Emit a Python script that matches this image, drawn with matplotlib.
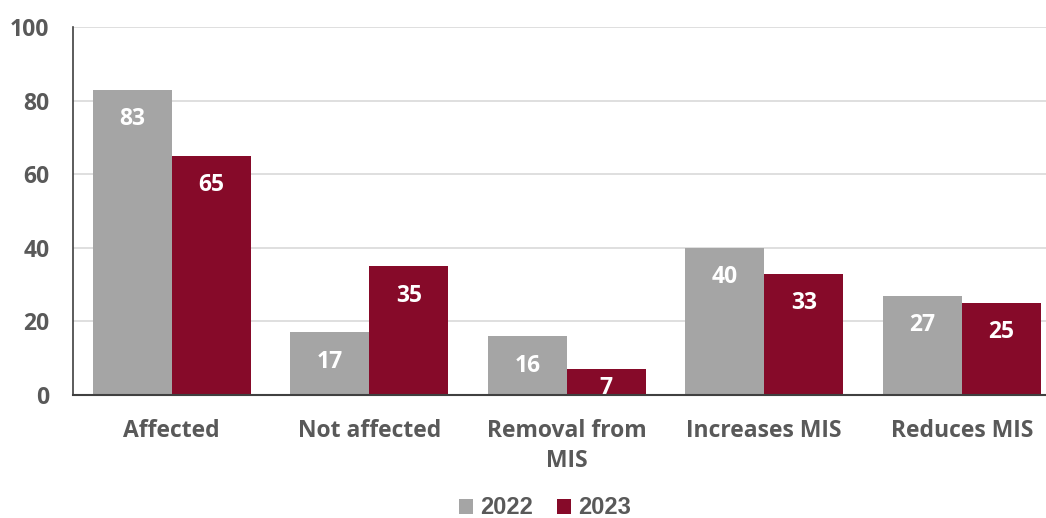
import matplotlib
matplotlib.use("Agg")
import matplotlib.pyplot as plt
import numpy as np

categories = ["Affected", "Not affected", "Removal from\nMIS", "Increases MIS", "Reduces MIS"]
series_names = ["2022", "2023"]
values_2022 = [83, 17, 16, 40, 27]
values_2023 = [65, 35, 7, 33, 25]
colors = ["#a5a5a5", "#860a29"]
text_grey = "#595959"

fig = plt.figure(figsize=(10.46, 5.18), dpi=100)
ax = fig.add_axes([73/1046, 1-395/518, 987.5/1046, 368/518])

x = np.arange(len(categories))
w = 0.40
b1 = ax.bar(x - w/2, values_2022, w, color=colors[0], label=series_names[0], zorder=3)
b2 = ax.bar(x + w/2, values_2023, w, color=colors[1], label=series_names[1], zorder=3)

label_inset = 8.0   # label centre below bar top (data units)
label_floor = 1.9   # lowest label centre (data units), as Excel clamps small bars
for bars in (b1, b2):
    for r in bars:
        h = r.get_height()
        t = ax.text(r.get_x() + r.get_width()/2, max(h - label_inset, label_floor), f"{int(h)}",
                    ha="center", va="center", color="white", fontsize=16.5, fontweight="bold",
                    family="Open Sans", zorder=4)
        t.set_clip_on(True)

ax.set_xlim(-0.5, len(categories) - 0.5)
ax.set_ylim(0, 100)
ax.set_yticks([0, 20, 40, 60, 80, 100])
ax.yaxis.grid(True, color="#d9d9d9", linewidth=1.2, zorder=0)
ax.set_axisbelow(True)
for s in ["top", "right"]:
    ax.spines[s].set_visible(False)
ax.spines["left"].set_color("#404040")
ax.spines["bottom"].set_color("#404040")
ax.spines["left"].set_linewidth(1.2)
ax.spines["bottom"].set_linewidth(1.5)
ax.spines["bottom"].set_zorder(5)
ax.tick_params(axis="both", length=0, colors=text_grey)
ax.set_xticks(x)
ax.set_xticklabels(categories, fontsize=16.5, fontweight="bold", family="Open Sans", color=text_grey, linespacing=1.35)
ax.tick_params(axis="x", pad=17)
for lab in ax.get_yticklabels():
    lab.set_fontsize(16.5); lab.set_fontweight("bold"); lab.set_family("Open Sans"); lab.set_color(text_grey)
ax.tick_params(axis="y", pad=17)

leg = fig.legend(handles=[b1, b2], labels=series_names, loc="center", bbox_to_anchor=(545/1046, 1-508/518),
                 ncol=2, frameon=False, prop={"family": "Liberation Sans", "weight": "bold", "size": 17},
                 handlelength=0.6, handleheight=0.6, handletextpad=0.3, columnspacing=1.0)
for t in leg.get_texts():
    t.set_color(text_grey)

fig.savefig("out.png", dpi=100)
